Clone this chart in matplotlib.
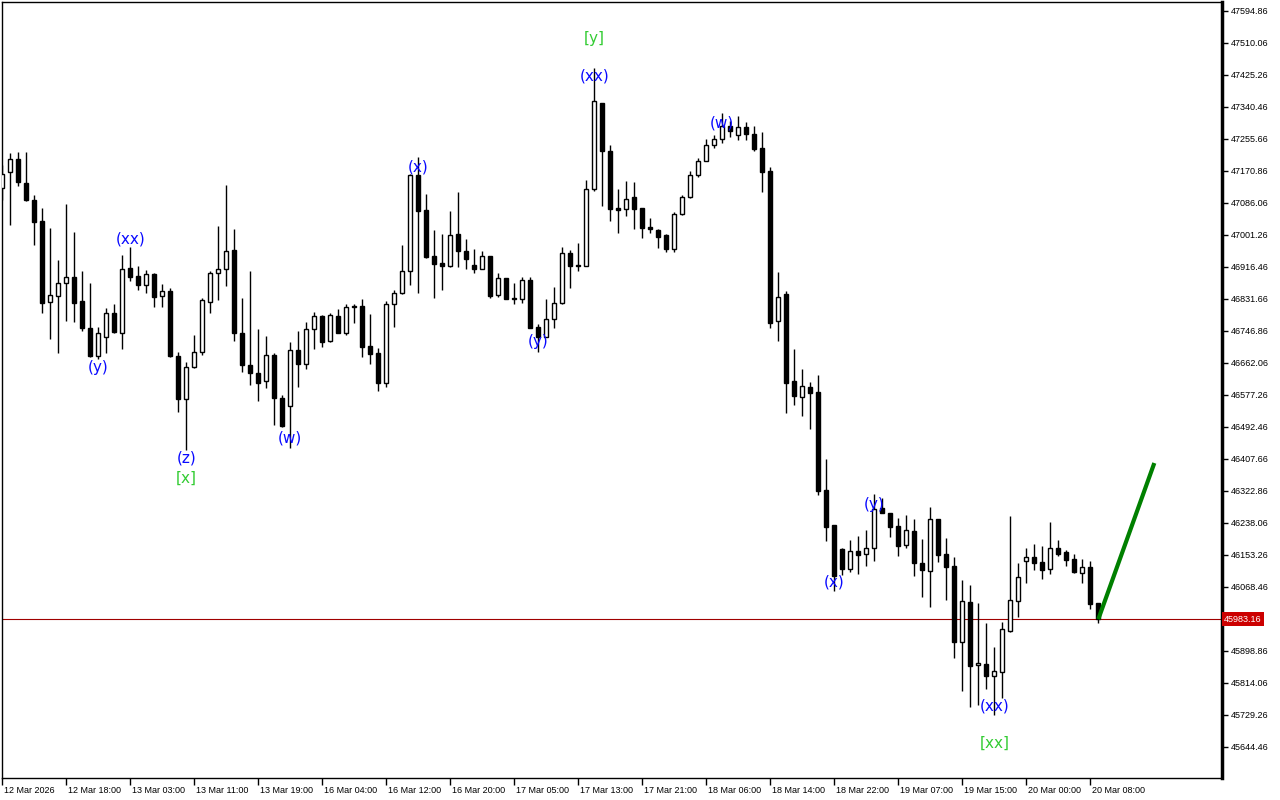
import matplotlib
matplotlib.use('Agg')
import matplotlib.pyplot as plt
import matplotlib.transforms as mtransforms
import numpy as np

# DATA ######
# hourly candles (price units)
opens = [47126, 47168, 47203, 47139, 47094, 47038, 46824, 46840, 46874, 46890,
         46826, 46755, 46681, 46731, 46795, 46742, 46914, 46893, 46869, 46898,
         46840, 46853, 46681, 46567, 46651, 46691, 46824, 46901, 46911, 46961,
         46742, 46657, 46636, 46614, 46683, 46569, 46548, 46697, 46659, 46752,
         46787, 46720, 46787, 46742, 46813, 46813, 46707, 46689, 46609, 46818,
         46848, 46906, 47160, 47068, 46946, 46927, 46919, 47004, 46959, 46922,
         46911, 46946, 46842, 46887, 46834, 46832, 46882, 46757, 46731, 46779,
         46821, 46954, 46922, 46919, 47123, 47351, 47224, 47073, 47070, 47102,
         47073, 47022, 47015, 47001, 46964, 47057, 47102, 47160, 47197, 47240,
         47256, 47290, 47266, 47287, 47269, 47232, 47171, 46773, 46845, 46614,
         46572, 46598, 46585, 46326, 46233, 46169, 46116, 46164, 46156, 46172,
         46278, 46265, 46230, 46180, 46217, 46132, 46111, 46249, 46156, 46124,
         45923, 46029, 45862, 45864, 45833, 45843, 45952, 46031, 46137, 46148,
         46135, 46116, 46172, 46161, 46143, 46106, 46121, 46026]
highs = [47187, 47219, 47221, 47221, 47107, 47073, 47020, 46935, 47083, 47009,
         46906, 46874, 46757, 46808, 46818, 46948, 46969, 46919, 46909, 46901,
         46871, 46861, 46691, 46665, 46736, 46834, 46906, 47025, 47134, 47017,
         46834, 46906, 46752, 46734, 46689, 46577, 46718, 46747, 46771, 46797,
         46789, 46795, 46805, 46818, 46818, 46832, 46792, 46702, 46826, 46856,
         46975, 47163, 47208, 47110, 47015, 47004, 47065, 47115, 46991, 46964,
         46959, 46946, 46901, 46887, 46874, 46890, 46890, 46765, 46832, 46863,
         46969, 46961, 46980, 47147, 47444, 47351, 47240, 47123, 47144, 47142,
         47073, 47046, 47017, 47004, 47062, 47107, 47171, 47205, 47256, 47266,
         47325, 47303, 47317, 47301, 47290, 47274, 47181, 46903, 46853, 46699,
         46646, 46612, 46630, 46408, 46233, 46172, 46193, 46204, 46220, 46315,
         46304, 46265, 46251, 46259, 46249, 46196, 46280, 46249, 46198, 46148,
         46087, 46074, 46026, 45973, 45909, 45976, 46257, 46132, 46172, 46182,
         46177, 46241, 46193, 46167, 46156, 46143, 46137, 46026]
lows = [47094, 47028, 47131, 47091, 46975, 46795, 46726, 46689, 46773, 46771,
        46747, 46678, 46673, 46689, 46742, 46699, 46879, 46856, 46848, 46810,
        46810, 46678, 46532, 46432, 46649, 46683, 46795, 46829, 46866, 46720,
        46638, 46604, 46561, 46596, 46498, 46492, 46437, 46598, 46646, 46699,
        46704, 46718, 46742, 46736, 46768, 46678, 46659, 46588, 46598, 46757,
        46845, 46869, 46848, 46940, 46834, 46856, 46916, 46916, 46911, 46901,
        46911, 46834, 46837, 46832, 46818, 46821, 46755, 46691, 46731, 46755,
        46818, 46861, 46906, 46919, 47118, 47078, 47038, 47007, 47052, 47017,
        46993, 47007, 46967, 46956, 46956, 47054, 47099, 47155, 47197, 47232,
        47245, 47261, 47253, 47253, 47224, 47115, 46755, 46720, 46530, 46551,
        46522, 46487, 46312, 46190, 46058, 46100, 46108, 46103, 46124, 46137,
        46265, 46201, 46151, 46172, 46098, 46042, 46015, 46135, 46034, 45880,
        45793, 45750, 45756, 45798, 45729, 45774, 45949, 45989, 46079, 46114,
        46090, 46103, 46151, 46124, 46106, 46079, 46010, 45973]
closes = [47163, 47203, 47142, 47094, 47036, 46821, 46842, 46874, 46890, 46821,
          46755, 46681, 46742, 46795, 46744, 46911, 46890, 46869, 46898, 46837,
          46853, 46681, 46567, 46651, 46691, 46829, 46901, 46911, 46959, 46742,
          46657, 46636, 46609, 46683, 46569, 46495, 46697, 46659, 46752, 46787,
          46718, 46789, 46742, 46810, 46810, 46704, 46686, 46609, 46818, 46848,
          46906, 47160, 47065, 46943, 46924, 46919, 47001, 46959, 46938, 46911,
          46946, 46840, 46887, 46832, 46831, 46882, 46755, 46731, 46779, 46821,
          46954, 46919, 46919, 47123, 47356, 47224, 47070, 47068, 47097, 47070,
          47020, 47017, 46996, 46964, 47057, 47102, 47160, 47197, 47240, 47256,
          47290, 47277, 47287, 47269, 47229, 47168, 46768, 46837, 46609, 46575,
          46601, 46583, 46323, 46227, 46098, 46116, 46164, 46153, 46172, 46275,
          46265, 46227, 46177, 46220, 46132, 46114, 46249, 46153, 46121, 45923,
          46031, 45859, 45867, 45833, 45846, 45957, 46034, 46095, 46148, 46132,
          46114, 46172, 46156, 46140, 46108, 46121, 46023, 45983.16]

tick_bars = [0, 8, 16, 24, 32, 40, 48, 56, 64, 72, 80, 88, 96, 104, 112, 120, 128, 136]
time_labels = ['12 Mar 2026', '12 Mar 18:00', '13 Mar 03:00', '13 Mar 11:00',
               '13 Mar 19:00', '16 Mar 04:00', '16 Mar 12:00', '16 Mar 20:00',
               '17 Mar 05:00', '17 Mar 13:00', '17 Mar 21:00', '18 Mar 06:00',
               '18 Mar 14:00', '18 Mar 22:00', '19 Mar 07:00', '19 Mar 15:00',
               '20 Mar 00:00', '20 Mar 08:00']
price_ticks = [47594.86, 47510.06, 47425.26, 47340.46, 47255.66, 47170.86,
               47086.06, 47001.26, 46916.46, 46831.66, 46746.86, 46662.06,
               46577.26, 46492.46, 46407.66, 46322.86, 46238.06, 46153.26,
               46068.46, 45898.86, 45814.06, 45729.26, 45644.46]

last_price = 45983.16
forecast_bar = 144
forecast_price = 46397

wave_labels = ['(y)', '(xx)', '(z)', '(w)', '(x)', '(y)', '(xx)', '(w)', '(x)', '(y)', '(xx)']
wave_bars = [12, 16, 23, 36, 52, 67, 74, 90, 104, 109, 124]
wave_prices = [46649, 46991, 46410, 46463, 47181, 46718, 47423, 47298, 46082, 46288, 45753]
major_labels = ['[x]', '[y]', '[xx]']
major_bars = [23, 74, 124]
major_prices = [46357, 47521, 45655]

# PLOT ######
o = np.array(opens, dtype=float)
c = np.array(closes, dtype=float)
h = np.array(highs, dtype=float)
l = np.array(lows, dtype=float)
x = np.arange(len(o))

fig = plt.figure(figsize=(12.8, 8), dpi=100)
ax = fig.add_axes([2 / 1280, 22 / 800, 1220 / 1280, 776 / 800])
ax.set_xlim(-0.04, 152.46)
ax.set_ylim(45562.3, 47618.7)

up = c >= o
ax.vlines(x, l, h, color='black', linewidth=1, zorder=2)
ax.bar(x, np.maximum(np.abs(c - o), 0.8), bottom=np.minimum(o, c), width=0.5,
       color=np.where(up, 'white', 'black'), edgecolor='black', linewidth=1, zorder=3)

# bid line + projection
ax.axhline(last_price, color='#a00000', linewidth=0.8, zorder=1)
ax.plot([x[-1], forecast_bar], [last_price, forecast_price], color='#008000',
        linewidth=3, solid_capstyle='butt', zorder=4)

for lbl, b, p in zip(wave_labels, wave_bars, wave_prices):
    ax.text(b, p, lbl, color='#0a0aff', fontsize=11, ha='center', va='center', zorder=5)
for lbl, b, p in zip(major_labels, major_bars, major_prices):
    ax.text(b, p, lbl, color='#33cc33', fontsize=11, ha='center', va='center', zorder=5)

# axes
ax.yaxis.tick_right()
ax.set_yticks(price_ticks)
ax.set_yticklabels(['%.2f' % v for v in price_ticks], family='Liberation Sans')
ax.tick_params(axis='y', direction='out', length=4, width=1, pad=2, labelsize=6.5)
ax.set_xticks(tick_bars)
ax.set_xticklabels(time_labels, family='Liberation Sans', ha='left')
ax.tick_params(axis='x', direction='out', length=5, width=1, pad=1, labelsize=6.5)
shift = mtransforms.ScaledTranslation(2 / 100, 0, fig.dpi_scale_trans)
for t in ax.get_xticklabels():
    t.set_transform(t.get_transform() + shift)

for s in ['left', 'top', 'bottom']:
    ax.spines[s].set_linewidth(1)
ax.spines['right'].set_linewidth(2.5)

tr = mtransforms.blended_transform_factory(ax.transAxes, ax.transData)
ax.text(1.0015, last_price, '%.2f' % last_price, transform=tr, ha='left', va='center',
        color='white', fontsize=6.5, family='Liberation Sans',
        bbox=dict(boxstyle='square,pad=0.25', fc='#cc0000', ec='none'), zorder=6)

fig.savefig('out.png', dpi=100)
